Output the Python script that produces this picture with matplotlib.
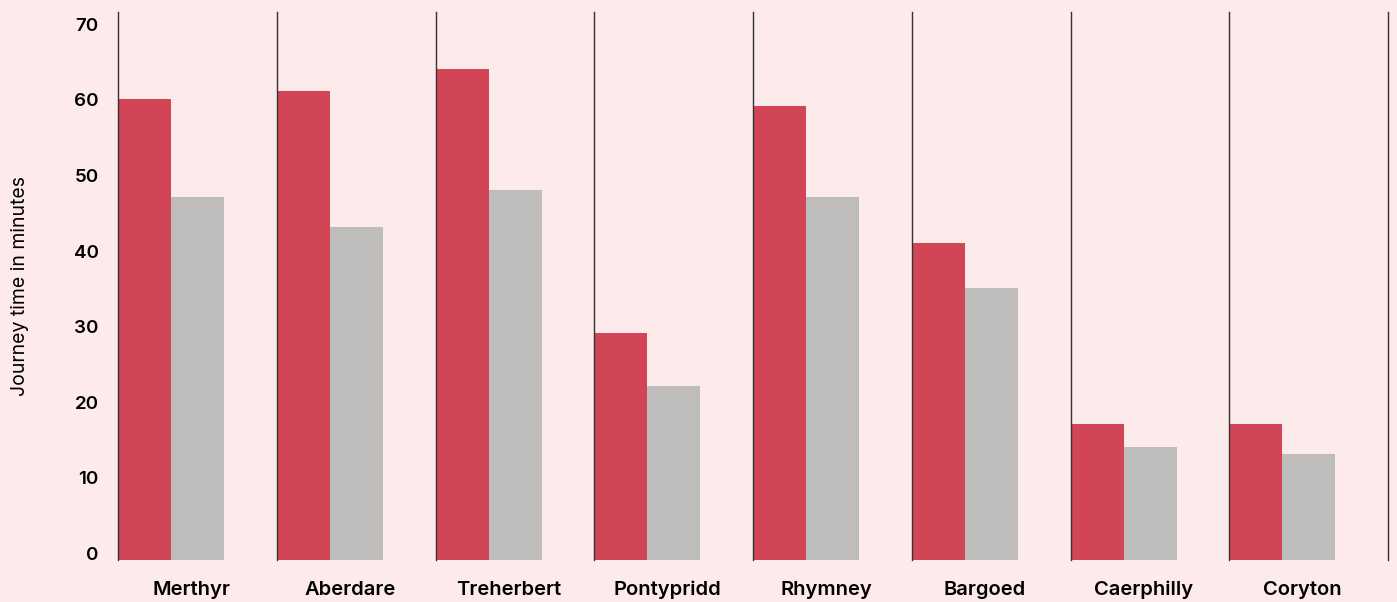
import matplotlib
matplotlib.use("Agg")
import matplotlib.pyplot as plt
import numpy as np

# journey times per line, current timetable vs. planned
stations = ["Merthyr", "Aberdare", "Treherbert", "Pontypridd",
            "Rhymney", "Bargoed", "Caerphilly", "Coryton"]
current_mins = [61, 62, 65, 30, 60, 42, 18, 18]
future_mins = [48, 44, 49, 23, 48, 36, 15, 14]
yticks = [0, 10, 20, 30, 40, 50, 60, 70]

bg = "#FCEBEA"
red = "#D14556"
grey = "#BEBDBB"

plt.rcParams['font.family'] = ['Inter', 'DejaVu Sans']

fig = plt.figure(figsize=(13.97, 6.02), dpi=100, facecolor=bg)
ax = fig.add_axes([118/1397, 1 - 560/602, (1388 - 118)/1397, (560 - 12)/602])
ax.set_facecolor(bg)

x = np.arange(len(stations))
w = 0.334
ax.bar(x, current_mins, width=w, align='edge', color=red, zorder=2)
ax.bar(x + w, future_mins, width=w, align='edge', color=grey, zorder=2)

# group separators, including the closing one on the right
for xi in list(x) + [len(stations)]:
    ax.axvline(xi, color='#333333', lw=1.0, zorder=3, clip_on=False)

ax.set_xlim(0, len(stations))
ax.set_ylim(0, 72.5)

ax.set_yticks(yticks)
ax.set_yticklabels([str(t) for t in yticks], fontsize=13.5, fontweight='semibold',
                   va='baseline')
ax.tick_params(axis='y', length=0, pad=14)

ax.set_xticks(x + 0.46)
ax.set_xticklabels(stations, fontsize=14.5, fontweight='semibold')
ax.tick_params(axis='x', length=0, pad=15)

ax.set_ylabel("Journey time in minutes", fontsize=14, labelpad=32)

for s in ax.spines.values():
    s.set_visible(False)

fig.savefig("out.png", dpi=100, facecolor=bg)
